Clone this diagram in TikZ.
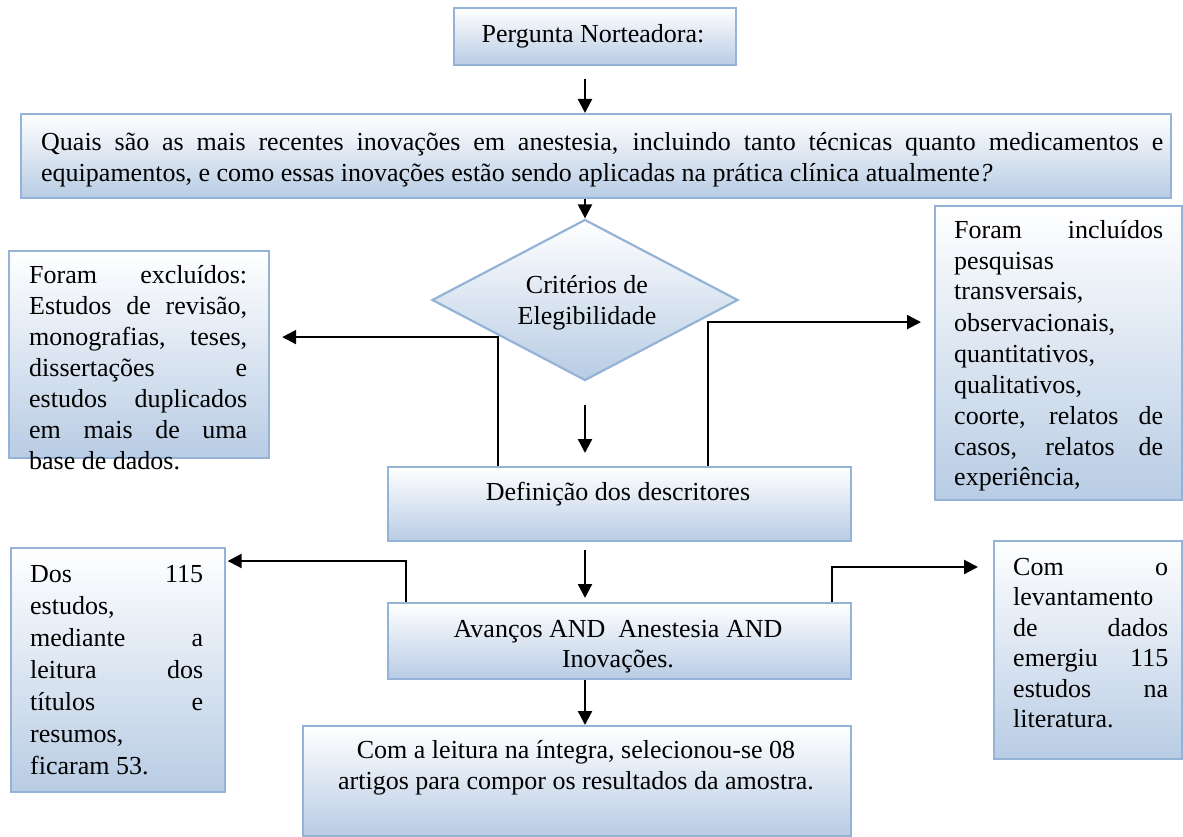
\documentclass[tikz,border=0pt]{standalone}
\usepackage{fontspec}
\setmainfont{Liberation Serif}
\usetikzlibrary{arrows.meta,shapes.geometric}
\definecolor{bord}{RGB}{149,179,215}
\definecolor{fillb}{RGB}{184,204,228}
\begin{document}
\tolerance=10000
\hyphenpenalty=10000
\begin{tikzpicture}[x=1pt,y=-1pt,
  box/.style={draw=bord,line width=2.2pt,top color=white,bottom color=fillb,inner sep=0pt,anchor=north west},
  arr/.style={draw=black,line width=2.2pt,-{Triangle[length=14pt,width=14pt]}},
  txt/.style={inner sep=0pt,anchor=base,font=\fontsize{26}{31}\selectfont},
  jtxt/.style={inner sep=0pt,anchor=base west,font=\fontsize{26}{31}\selectfont,align=justify}]
\useasboundingbox (0,0) rectangle (1183,837);
% boxes
\node[box,minimum width=282pt,minimum height=57pt] (top) at (453,7) {};
\node[box,minimum width=1150pt,minimum height=84pt] (q) at (20,113) {};
\node[draw=bord,line width=2.2pt,top color=white,bottom color=fillb,diamond,minimum width=306pt,minimum height=161pt,inner sep=0pt] (dia) at (585,300) {};
\node[box,minimum width=260pt,minimum height=207pt] (excl) at (8,250) {};
\node[box,minimum width=247pt,minimum height=294pt] (incl) at (934,205) {};
\node[box,minimum width=463pt,minimum height=74pt] (def) at (387,466) {};
\node[box,minimum width=463pt,minimum height=76pt] (avan) at (387,602) {};
\node[box,minimum width=214pt,minimum height=244pt] (dos) at (10,547) {};
\node[box,minimum width=188pt,minimum height=218pt] (com) at (993,540) {};
\node[box,minimum width=548pt,minimum height=110pt] (fin) at (302,725) {};
% texts
\node[txt] (ttop) at (593,43) {Pergunta Norteadora:};
\node[jtxt,text width=1122pt] (tq) at (41,151) {Quais são as mais recentes inovações em anestesia, incluindo tanto técnicas quanto medicamentos e\linebreak equipamentos, e como essas inovações estão sendo aplicadas na prática clínica atualmente\textit{?}};
\node[txt] (tdia1) at (587,293) {Critérios de};
\node[txt] (tdia2) at (587,324) {Elegibilidade};
\node[jtxt,text width=218pt] (texcl) at (29,283) {Foram excluídos:\linebreak Estudos de revisão,\linebreak monografias, teses,\linebreak dissertações e\linebreak estudos duplicados\linebreak em mais de uma\linebreak base de dados.};
\node[jtxt,text width=209pt] (tincl) at (954,238) {Foram incluídos\linebreak pesquisas\linebreak transversais,\linebreak observacionais,\linebreak quantitativos,\linebreak qualitativos,\linebreak coorte, relatos de\linebreak casos, relatos de\linebreak experiência,};
\node[txt] (tdef) at (618,500) {Definição dos descritores};
\node[txt] (tavan1) at (618,637) {Avanços AND\ \ Anestesia AND};
\node[txt] (tavan2) at (618,667) {Inovações.};
\node[jtxt,text width=173pt,font=\fontsize{26}{32}\selectfont] (tdos) at (30,582) {Dos 115\linebreak estudos,\linebreak mediante a\linebreak leitura dos\linebreak títulos e\linebreak resumos,\linebreak ficaram 53.};
\node[jtxt,text width=155pt,font=\fontsize{26}{30.5}\selectfont] (tcom) at (1013,575) {Com o\linebreak levantamento\linebreak de dados\linebreak emergiu 115\linebreak estudos na\linebreak literatura.};
\node[txt] (tfin1) at (576,758) {Com a leitura na íntegra, selecionou-se 08};
\node[txt] (tfin2) at (576,789) {artigos para compor os resultados da amostra.};
% connectors
\draw[arr] ([yshift=-13pt]top.south -| dia.north) -- (q.north -| dia.north);
\draw[arr] (q.south -| dia.north) -- (dia.north);
\draw[arr] ([yshift=-23pt]dia.south) -- ([yshift=13pt]def.north -| dia.south);
\draw[arr] ([yshift=-8pt]def.south -| dia.south) -- ([yshift=4pt]avan.north -| dia.south);
\draw[arr] (avan.south -| dia.south) -- (fin.north -| dia.south);
\draw[arr] ([xshift=111pt]def.north west) |- ([xshift=12pt,yshift=17.5pt]excl.east);
\draw[arr] ([xshift=321pt]def.north west) |- ([xshift=-13pt,yshift=31pt]incl.west);
\draw[arr] ([xshift=19pt]avan.north west) |- ([xshift=1.5pt,yshift=-14pt]dos.north east);
\draw[arr] ([xshift=-20pt]avan.north east) |- ([xshift=-15pt,yshift=-27pt]com.north west);
\end{tikzpicture}
\end{document}
